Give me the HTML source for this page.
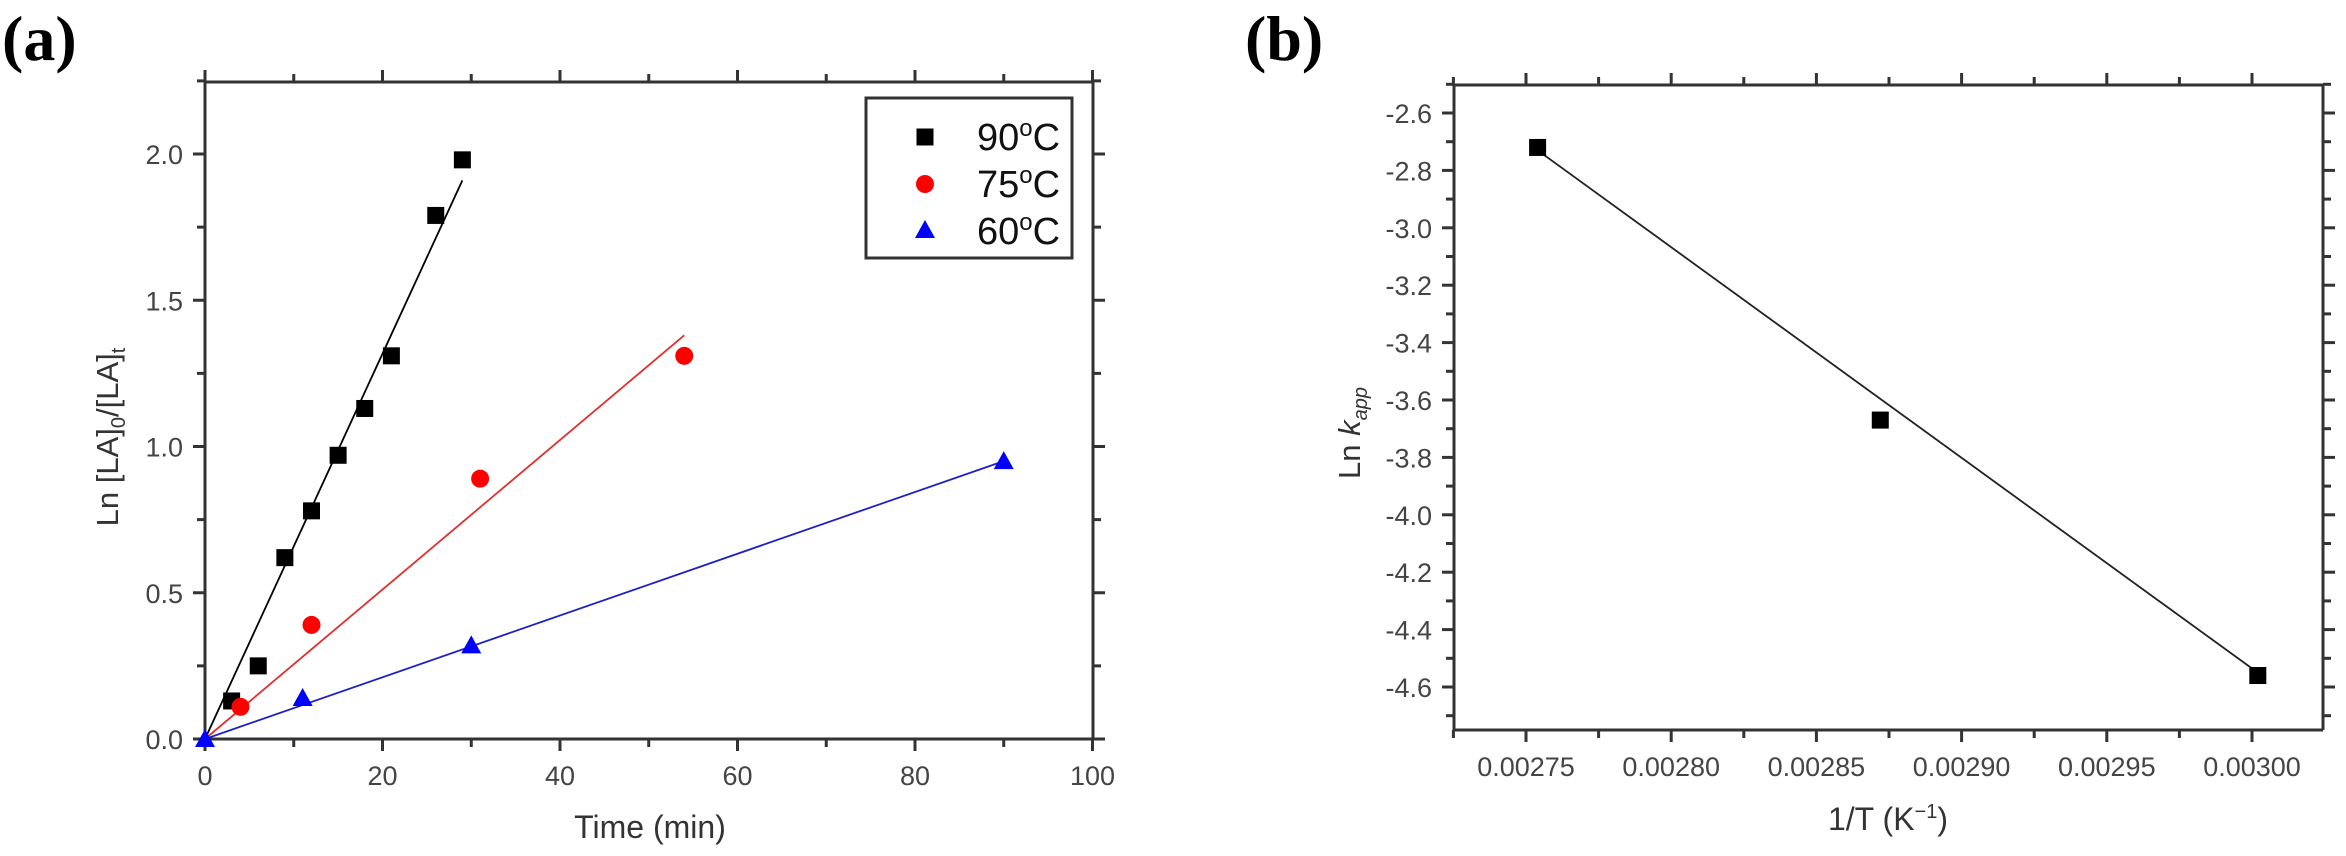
<!DOCTYPE html>
<html><head><meta charset="utf-8"><style>
html,body{margin:0;padding:0;background:#fff;}
svg{display:block;}
</style></head><body>
<svg id="s" width="2346" height="856" xmlns="http://www.w3.org/2000/svg" font-family="Liberation Sans, Arial, sans-serif">
<rect width="2346" height="856" fill="#fff"/>
<text x="2" y="60" font-family="Liberation Serif, serif" font-weight="bold" font-size="64" fill="#000">(a)</text>
<text x="1245" y="60" font-family="Liberation Serif, serif" font-weight="bold" font-size="64" fill="#000">(b)</text>
<g id="g"></g>
</svg>
<script>
var g=document.getElementById('g'),h='';
function L(x1,y1,x2,y2,c,w){h+='<line x1="'+x1+'" y1="'+y1+'" x2="'+x2+'" y2="'+y2+'" stroke="'+(c||'#333')+'" stroke-width="'+(w||3)+'"/>';}
function T(x,y,t,a,s,c){h+='<text x="'+x+'" y="'+y+'" text-anchor="'+(a||'middle')+'" font-size="'+(s||27)+'" fill="'+(c||'#444')+'">'+t+'</text>';}
function sq(x,y,c){h+='<rect x="'+(x-8.5)+'" y="'+(y-8.5)+'" width="17" height="17" fill="'+(c||'#000')+'"/>';}
function ci(x,y){h+='<circle cx="'+x+'" cy="'+y+'" r="9" fill="#f00"/>';}
function tr(x,y){h+='<polygon points="'+x+','+(y-10)+' '+(x-10)+','+(y+8)+' '+(x+10)+','+(y+8)+'" fill="#00f"/>';}
// Panel a
var ax0=205,ax1=1093,ay0=739,ay1=82;
function X(v){return ax0+v*8.875;} function Y(v){return ay0-v*292.5;}
L(ax0,ay1,ax1,ay1);L(ax0,ay0,ax1,ay0);L(ax0,ay1,ax0,ay0);L(ax1,ay1,ax1,ay0);
for(var v=0;v<=100;v+=10){var x=X(v),m=v%20==0,k=m?12:8;L(x,ay0,x,ay0+k);L(x,ay1,x,ay1-k);if(m)T(x,ay0+46,v);}
for(var v=0;v<=2.25;v+=0.25){var y=Y(v),m=Math.abs(v*2-Math.round(v*2))<1e-6,k=m?12:8;L(ax0,y,ax0-k,y);L(ax1,y,ax1+k,y);if(m)T(ax0-22,y+10,v.toFixed(1),'end');}
L(X(0),Y(0),X(29),Y(1.91),'#000',1.8);
L(X(0),Y(0),X(54),Y(1.38),'#e03030',1.8);
L(X(0),Y(0),X(90),Y(0.95),'#2020c0',1.8);
[[3,.13],[6,.25],[9,.62],[12,.78],[15,.97],[18,1.13],[21,1.31],[26,1.79],[29,1.98]].forEach(function(p){sq(X(p[0]),Y(p[1]));});
[[4,.11],[12,.39],[31,.89],[54,1.31]].forEach(function(p){ci(X(p[0]),Y(p[1]));});
[[11,.14],[30,.32],[90,.95]].forEach(function(p){tr(X(p[0]),Y(p[1]));});
tr(X(0),Y(0));
h+='<rect x="866" y="98" width="206" height="160" fill="#fff" stroke="#333" stroke-width="3"/>';
sq(925,137);ci(925,184);tr(925,230);
['90','75','60'].forEach(function(t,i){h+='<text x="977" y="'+(150+i*47)+'" font-size="38" fill="#111">'+t+'<tspan font-size="24" dy="-14">o</tspan><tspan dy="14">C</tspan></text>';});
h+='<text transform="translate(118,437) rotate(-90)" text-anchor="middle" font-size="31" fill="#333">Ln [LA]<tspan font-size="20" dy="7">0</tspan><tspan dy="-7">/[LA]</tspan><tspan font-size="20" dy="7">t</tspan></text>';
T(650,838,'Time (min)','middle',32,'#333');
// Panel b
var bx0=1454,bx1=2323,by0=730,by1=85;
function BX(v){return 1526+(v-0.00275)/0.00005*145.2;} function BY(v){return 113-(v+2.6)*287;}
L(bx0,by1,bx1,by1);L(bx0,by0,bx1,by0);L(bx0,by1,bx0,by0);L(bx1,by1,bx1,by0);
for(var i=-1;i<=11;i++){var v=0.00275+i*0.000025,x=BX(v);if(x<bx0-1||x>bx1+1)continue;var m=i%2==0,k=m?12:8;L(x,by0,x,by0+k);L(x,by1,x,by1-k);if(m)T(x,by0+46,v.toFixed(5));}
for(var i=-1;i<=21;i++){var v=-2.6-i*0.1,y=BY(v);if(y<by1-1||y>by0+1)continue;var m=i%2==0,k=m?12:8;L(bx0,y,bx0-k,y);L(bx1,y,bx1+k,y);if(m)T(bx0-22,y+10,v.toFixed(1),'end');}
L(BX(0.002754),BY(-2.73),BX(0.003002),BY(-4.55),'#222',1.8);
sq(BX(0.002754),BY(-2.72));sq(BX(0.002872),BY(-3.67));sq(BX(0.003002),BY(-4.56));
h+='<text transform="translate(1360,433) rotate(-90)" text-anchor="middle" font-size="31" fill="#333">Ln <tspan font-style="italic">k</tspan><tspan font-size="20" font-style="italic" dy="7">app</tspan></text>';
h+='<text x="1888" y="830" text-anchor="middle" font-size="32" fill="#333">1/T (K<tspan font-size="20" dy="-12">−1</tspan><tspan dy="12">)</tspan></text>';
g.innerHTML=h;
</script>
</body></html>
